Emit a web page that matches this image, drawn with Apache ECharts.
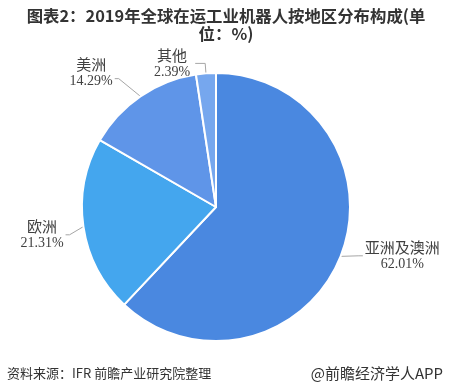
<!DOCTYPE html>
<html><head><meta charset="utf-8">
<script src="https://cdn.jsdelivr.net/npm/echarts@6/dist/echarts.min.js"></script>
<style>html,body{margin:0;padding:0;background:#fff}#c{width:452px;height:384px}</style>
</head><body><div id="c"></div>
<script>
const categories = ['亚洲及澳洲', '欧洲', '美洲', '其他'];
const values = [62.01, 21.31, 14.29, 2.39];
const colors = ['#4a88e0', '#44a6ee', '#5f95e8', '#76a7ee'];
const labelShiftY = [-4, 7, -24, 0];

const chart = echarts.init(document.getElementById('c'), null, {renderer: 'canvas'});
chart.setOption({
  backgroundColor: '#fff',
  animation: false,
  title: [
    {text: '图表2：2019年全球在运工业机器人按地区分布构成(单\n位：%)', left: 'center', top: 2,
     textStyle: {fontSize: 16.4, fontWeight: 'bold', color: '#333', lineHeight: 18, fontFamily: 'Noto Sans CJK SC'}},
    {text: '资料来源：IFR 前瞻产业研究院整理', left: 2, top: 362,
     textStyle: {fontSize: 13, fontWeight: 'normal', color: '#333', fontFamily: 'Noto Sans CJK SC'}},
    {text: '@前瞻经济学人APP', right: 4, top: 361,
     textStyle: {fontSize: 15, fontWeight: 'normal', color: '#333', fontFamily: 'Noto Sans CJK SC'}}
  ],
  series: [{
    type: 'pie',
    center: [216, 207],
    radius: 134,
    startAngle: 90,
    clockwise: true,
    data: categories.map((c, i) => ({name: c, value: values[i], itemStyle: {color: colors[i]}})),
    itemStyle: {borderColor: '#fff', borderWidth: 2},
    label: {
      formatter: p => '{n|' + p.name + '}\n{v|' + p.value.toFixed(2) + '%}',
      color: '#404040',
      rich: {
        n: {fontSize: 15, lineHeight: 17, align: 'center', color: '#404040', fontFamily: 'Noto Sans CJK SC'},
        v: {fontSize: 14, lineHeight: 17, align: 'center', color: '#404040', fontFamily: 'Liberation Serif'}
      }
    },
    labelLine: {length: 10, length2: 10, lineStyle: {color: '#a6a6a6', width: 1}},
    labelLayout: p => {
      const dy = labelShiftY[p.dataIndex];
      const pts = p.labelLinePoints;
      if (!pts || !dy) return {dy: dy};
      const r = p.labelRect;
      const left = r.x + r.width / 2 < 216;
      const ex = left ? r.x + r.width + 2 : r.x - 2;
      const ey = r.y + dy + r.height / 2 + (dy < -10 ? 6 : 0);
      const mx = left ? ex + 4 : ex - 4;
      return {dy: dy, labelLinePoints: [pts[0], [mx, ey], [ex, ey]]};
    }
  }]
});
</script></body></html>
